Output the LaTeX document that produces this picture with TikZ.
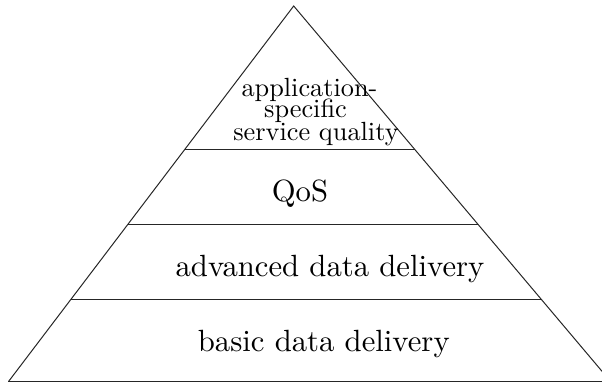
\documentclass[tikz,border=0pt]{standalone}
\usepackage{graphicx}
\usetikzlibrary{calc}
\newcommand{\bigtext}[1]{\scalebox{1.535}{\fontsize{10}{12}\selectfont #1}}
\newcommand{\smalltext}[1]{\scalebox{1.315}{\fontsize{10}{12}\selectfont #1}}
\tikzset{
  edge/.style={line width=0.5pt, black!85},
  txt/.style={anchor=base, inner sep=0pt},
}
\begin{document}
\begin{tikzpicture}[x=0.5pt,y=-0.5pt]
\useasboundingbox (0,0) rectangle (602,383);
\clip (0,0) rectangle (602,383);
\coordinate (A) at (293.7,6);
\coordinate (L) at (8.4,381.7);
\coordinate (R) at (610.8,381.7);
% pyramid outline
\draw[edge] (L) -- (A) -- (R);
\draw[edge, line width=0.65pt] (L) -- (R);
% layer dividers
\foreach \t/\n in {0.3814/one, 0.5810/two, 0.7807/three}{
  \coordinate (l\n) at ($(A)!\t!(L)$);
  \coordinate (r\n) at ($(A)!\t!(R)$);
  \draw[edge] (l\n) -- (r\n);
}
% labels
\node[txt] (t1a) at (309.5,96.5) {\smalltext{application-}};
\node[txt] (t1b) at (305.5,117.8) {\smalltext{specific}};
\node[txt] (t1c) at (316,141) {\smalltext{service quality}};
\node[txt] (t2) at (300,201.7) {\bigtext{QoS}};
\node[txt] (t3) at (330,276.7) {\bigtext{advanced data delivery}};
\node[txt] (t4) at (323.8,351.7) {\bigtext{basic data delivery}};
\end{tikzpicture}
\end{document}
